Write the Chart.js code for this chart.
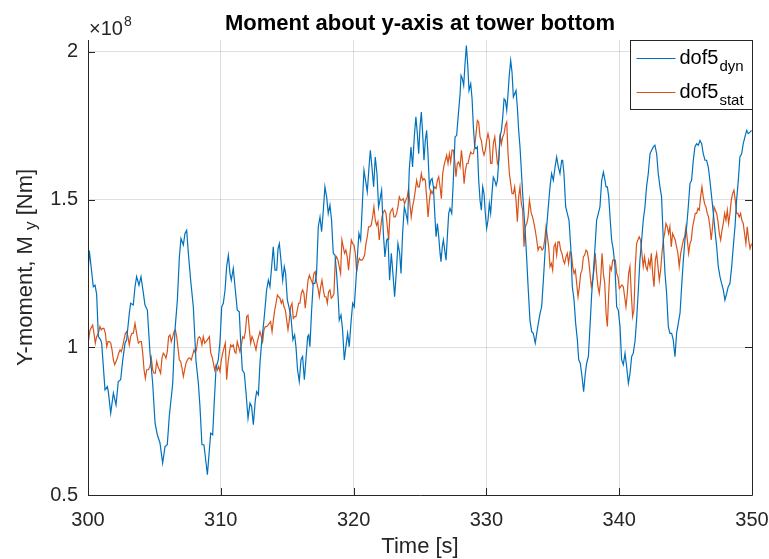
<!DOCTYPE html>
<html>
<head>
<meta charset="utf-8">
<script src="https://cdn.jsdelivr.net/npm/chart.js@4.4.1/dist/chart.umd.min.js"></script>
<style>
  html, body { margin: 0; padding: 0; background: #fff; }
  canvas { display: block; }
</style>
</head>
<body>
<canvas id="myChart" width="769" height="559"></canvas>
<script>
// values in units of 1e8 Nm
var dynTime = [300.0,300.1,300.4,300.53,300.65,300.78,300.95,301.03,301.28,301.46,301.53,301.71,301.91,302.11,302.28,302.46,302.61,302.79,302.91,303.11,303.21,303.41,303.54,303.66,303.84,303.99,304.17,304.29,304.47,304.67,304.87,305.05,305.22,305.42,305.62,305.8,305.97,306.12,306.38,306.55,306.73,306.88,307.0,307.18,307.3,307.43,307.56,307.73,307.93,308.13,308.31,308.43,308.58,308.73,308.86,308.99,309.14,309.24,309.39,309.49,309.64,309.81,309.94,310.07,310.19,310.32,310.44,310.57,310.69,310.79,310.94,311.07,311.24,311.39,311.49,311.62,311.77,311.9,312.05,312.2,312.32,312.45,312.6,312.7,312.83,312.95,313.08,313.25,313.45,313.58,313.7,313.83,313.95,314.08,314.21,314.31,314.41,314.53,314.66,314.78,314.88,315.01,315.13,315.28,315.43,315.56,315.66,315.78,315.91,316.04,316.16,316.29,316.41,316.54,316.62,316.71,316.84,316.96,317.09,317.21,317.34,317.47,317.59,317.72,317.84,317.97,318.09,318.22,318.34,318.47,318.6,318.72,318.85,318.92,319.05,319.17,319.3,319.42,319.55,319.67,319.8,319.93,320.05,320.18,320.3,320.4,320.53,320.65,320.78,320.9,321.03,321.16,321.26,321.38,321.51,321.63,321.76,321.88,321.98,322.11,322.24,322.36,322.49,322.59,322.71,322.84,322.96,323.09,323.21,323.34,323.47,323.57,323.69,323.82,323.94,324.07,324.19,324.32,324.44,324.57,324.69,324.8,324.9,325.0,325.1,325.2,325.3,325.4,325.5,325.6,325.71,325.81,325.91,326.01,326.11,326.21,326.31,326.41,326.51,326.58,326.68,326.76,326.86,326.96,327.06,327.16,327.26,327.39,327.51,327.64,327.76,327.89,328.02,328.09,328.19,328.29,328.39,328.49,328.59,328.69,328.82,328.92,329.02,329.12,329.22,329.32,329.42,329.52,329.62,329.72,329.82,329.92,330.02,330.12,330.22,330.32,330.42,330.52,330.63,330.73,330.83,330.93,331.03,331.13,331.23,331.33,331.43,331.53,331.63,331.73,331.83,331.93,332.03,332.13,332.23,332.33,332.43,332.53,332.63,332.73,332.83,332.93,333.04,333.14,333.28,333.41,333.53,333.68,333.79,333.91,334.04,334.16,334.29,334.41,334.54,334.66,334.79,334.91,335.04,335.17,335.29,335.42,335.54,335.67,335.74,335.84,335.97,336.09,336.22,336.35,336.47,336.6,336.72,336.85,336.95,337.07,337.2,337.32,337.45,337.55,337.68,337.8,337.93,338.05,338.18,338.3,338.43,338.55,338.68,338.81,338.93,339.01,339.11,339.21,339.31,339.43,339.56,339.68,339.81,339.93,340.06,340.18,340.31,340.44,340.56,340.69,340.81,340.94,341.06,341.19,341.31,341.44,341.56,341.69,341.81,341.94,342.06,342.19,342.32,342.44,342.57,342.69,342.82,342.94,343.07,343.19,343.32,343.45,343.57,343.7,343.82,343.95,344.07,344.2,344.32,344.45,344.58,344.7,344.83,344.95,345.08,345.2,345.33,345.45,345.58,345.7,345.83,345.96,346.08,346.21,346.33,346.46,346.58,346.71,346.83,346.96,347.09,347.21,347.34,347.46,347.59,347.71,347.84,347.96,348.09,348.21,348.34,348.47,348.59,348.72,348.84,348.97,349.09,349.22,349.34,349.47,349.6,349.72,349.85,349.97];
var dynValue = [1.25,1.327,1.205,1.21,1.18,1.036,1.025,1.014,0.856,0.867,0.85,0.777,0.845,0.805,0.884,0.89,0.955,1.014,1.025,1.115,1.149,1.143,1.205,1.239,1.21,1.239,1.183,1.143,1.126,0.98,0.878,0.743,0.704,0.676,0.608,0.664,0.67,0.766,0.878,1.059,1.16,1.306,1.368,1.346,1.385,1.396,1.317,1.227,1.137,0.955,0.878,0.8,0.67,0.67,0.62,0.569,0.653,0.709,0.704,0.8,0.929,0.958,1.02,1.137,1.149,1.194,1.273,1.312,1.25,1.227,1.267,1.205,1.126,1.12,1.025,0.923,0.912,0.845,0.76,0.811,0.8,0.738,0.822,0.85,0.839,0.946,1.02,1.092,1.194,1.227,1.205,1.273,1.34,1.261,1.261,1.334,1.351,1.295,1.227,1.273,1.25,1.16,1.137,1.104,1.025,1.042,1.002,0.923,0.884,0.958,0.969,0.89,0.958,1.036,1.042,1.002,1.126,1.216,1.216,1.25,1.408,1.441,1.391,1.464,1.543,1.509,1.453,1.481,1.43,1.318,1.312,1.25,1.16,1.092,1.109,1.059,0.957,1.002,1.047,1.002,1.081,1.149,1.137,1.227,1.318,1.385,1.363,1.475,1.599,1.565,1.526,1.61,1.667,1.61,1.543,1.644,1.588,1.475,1.498,1.532,1.385,1.306,1.363,1.368,1.227,1.318,1.25,1.171,1.25,1.351,1.318,1.25,1.385,1.475,1.453,1.425,1.599,1.678,1.61,1.712,1.78,1.723,1.655,1.745,1.796,1.723,1.633,1.7,1.734,1.655,1.543,1.565,1.571,1.543,1.453,1.374,1.419,1.374,1.318,1.29,1.34,1.363,1.329,1.295,1.374,1.453,1.47,1.453,1.565,1.712,1.717,1.79,1.858,1.92,1.909,1.886,1.959,2.021,1.959,1.869,1.892,1.841,1.745,1.678,1.672,1.678,1.565,1.498,1.464,1.543,1.52,1.453,1.402,1.43,1.486,1.453,1.52,1.576,1.565,1.548,1.565,1.633,1.712,1.734,1.779,1.841,1.835,1.802,1.858,1.925,1.971,1.931,1.847,1.858,1.869,1.813,1.734,1.678,1.599,1.52,1.453,1.385,1.295,1.205,1.092,1.053,1.047,1.014,1.047,1.081,1.115,1.137,1.227,1.318,1.408,1.475,1.543,1.588,1.565,1.61,1.644,1.61,1.588,1.633,1.633,1.588,1.475,1.453,1.43,1.34,1.205,1.16,1.081,1.025,0.958,0.946,0.901,0.85,0.912,0.946,0.969,1.069,1.182,1.25,1.34,1.43,1.453,1.475,1.565,1.593,1.565,1.543,1.543,1.509,1.441,1.363,1.329,1.273,1.137,1.126,1.07,0.958,0.941,0.98,0.935,0.878,0.91,0.969,0.98,1.02,1.092,1.194,1.295,1.363,1.43,1.475,1.543,1.588,1.655,1.667,1.678,1.684,1.655,1.588,1.543,1.509,1.363,1.25,1.182,1.07,1.047,1.047,1.025,0.968,1.047,1.081,1.115,1.205,1.295,1.363,1.408,1.475,1.554,1.565,1.633,1.678,1.689,1.684,1.7,1.689,1.655,1.633,1.633,1.61,1.565,1.509,1.453,1.396,1.34,1.273,1.239,1.216,1.194,1.16,1.182,1.205,1.216,1.273,1.34,1.408,1.498,1.565,1.644,1.655,1.689,1.712,1.734,1.723,1.728,1.734];

var statTime = [300.0,300.15,300.35,300.45,300.55,300.65,300.78,300.9,301.0,301.1,301.2,301.31,301.41,301.51,301.61,301.71,301.81,301.91,302.01,302.11,302.21,302.31,302.41,302.51,302.61,302.71,302.81,302.91,303.01,303.11,303.21,303.31,303.41,303.54,303.66,303.79,303.92,304.02,304.12,304.22,304.32,304.42,304.54,304.67,304.77,304.87,304.97,305.07,305.17,305.27,305.37,305.47,305.57,305.67,305.77,305.87,305.97,306.07,306.17,306.27,306.38,306.48,306.58,306.68,306.78,306.88,306.98,307.08,307.18,307.28,307.38,307.48,307.58,307.68,307.78,307.88,307.98,308.08,308.18,308.28,308.38,308.48,308.58,308.68,308.79,308.89,308.99,309.14,309.24,309.34,309.44,309.54,309.64,309.74,309.84,309.94,310.04,310.14,310.24,310.34,310.44,310.54,310.64,310.74,310.84,310.94,311.04,311.14,311.24,311.34,311.44,311.55,311.65,311.75,311.85,311.95,312.05,312.15,312.25,312.35,312.45,312.55,312.65,312.75,312.85,312.95,313.05,313.15,313.25,313.35,313.45,313.55,313.65,313.75,313.86,313.96,314.06,314.16,314.26,314.36,314.46,314.56,314.66,314.76,314.86,314.96,315.06,315.16,315.26,315.36,315.46,315.56,315.66,315.76,315.86,315.96,316.06,316.16,316.26,316.36,316.47,316.57,316.67,316.81,316.91,317.01,317.11,317.21,317.32,317.42,317.52,317.62,317.72,317.82,317.92,318.02,318.12,318.22,318.32,318.42,318.52,318.62,318.72,318.82,318.92,319.02,319.12,319.22,319.32,319.42,319.52,319.62,319.73,319.83,319.93,320.03,320.13,320.23,320.33,320.43,320.53,320.63,320.73,320.83,320.93,321.03,321.13,321.23,321.33,321.43,321.53,321.63,321.73,321.83,321.93,322.03,322.14,322.24,322.34,322.44,322.54,322.64,322.74,322.84,322.94,323.04,323.14,323.24,323.34,323.44,323.54,323.64,323.74,323.84,323.94,324.04,324.14,324.24,324.34,324.44,324.54,324.65,324.75,324.85,324.95,325.1,325.2,325.3,325.4,325.5,325.61,325.71,325.81,325.91,326.01,326.11,326.21,326.31,326.41,326.51,326.61,326.71,326.81,326.91,327.01,327.11,327.21,327.31,327.41,327.51,327.61,327.71,327.81,327.91,328.02,328.12,328.22,328.32,328.42,328.52,328.62,328.72,328.82,328.92,329.02,329.12,329.22,329.32,329.42,329.52,329.62,329.72,329.82,329.92,330.02,330.12,330.22,330.32,330.42,330.52,330.63,330.73,330.83,330.93,331.03,331.13,331.23,331.33,331.43,331.53,331.63,331.73,331.83,331.93,332.03,332.13,332.23,332.33,332.43,332.53,332.63,332.73,332.83,332.93,333.04,333.14,333.24,333.38,333.48,333.58,333.68,333.79,333.89,333.99,334.09,334.19,334.29,334.39,334.49,334.59,334.69,334.79,334.89,334.99,335.09,335.19,335.29,335.39,335.49,335.59,335.69,335.79,335.89,335.99,336.09,336.19,336.3,336.4,336.5,336.6,336.7,336.8,336.9,337.0,337.1,337.2,337.3,337.4,337.5,337.6,337.7,337.8,337.9,338.0,338.1,338.2,338.3,338.4,338.5,338.6,338.71,338.81,338.91,339.01,339.11,339.21,339.31,339.41,339.51,339.61,339.71,339.81,339.91,340.01,340.11,340.21,340.31,340.41,340.51,340.61,340.71,340.81,340.91,341.01,341.11,341.21,341.31,341.41,341.51,341.61,341.71,341.81,341.91,342.01,342.11,342.22,342.32,342.42,342.52,342.62,342.72,342.82,342.92,343.02,343.12,343.22,343.32,343.42,343.52,343.62,343.72,343.82,343.92,344.02,344.12,344.22,344.32,344.42,344.52,344.63,344.73,344.83,344.93,345.03,345.13,345.23,345.33,345.43,345.53,345.63,345.73,345.83,345.93,346.03,346.13,346.23,346.33,346.43,346.53,346.63,346.73,346.83,346.93,347.03,347.14,347.24,347.34,347.44,347.54,347.64,347.74,347.84,347.94,348.04,348.14,348.24,348.34,348.44,348.54,348.64,348.74,348.84,348.94,349.04,349.14,349.24,349.34,349.44,349.54,349.64,349.75,349.85,349.97];
var statValue = [1.01,1.059,1.075,1.047,1.014,1.036,1.047,1.07,1.059,1.064,1.064,1.047,1.002,1.019,1.019,1.014,0.991,0.957,0.941,0.952,0.963,0.98,0.991,0.985,1.002,1.025,1.047,1.053,1.036,1.008,1.036,1.047,1.047,1.081,1.047,1.014,1.019,1.019,0.98,0.924,0.895,0.924,0.924,0.935,0.963,0.924,0.912,0.912,0.952,0.935,0.924,0.912,0.963,0.98,0.974,0.963,0.985,1.036,1.042,1.019,1.036,1.053,1.059,1.036,0.996,0.957,0.952,0.929,0.901,0.924,0.946,0.957,0.963,0.963,0.957,0.974,0.991,0.98,0.996,1.03,1.036,1.03,1.008,1.036,1.014,1.019,1.025,1.036,0.98,0.968,0.946,0.923,0.94,0.923,0.935,0.918,0.957,0.98,0.997,1.014,0.89,0.946,0.98,1.008,1.002,1.008,0.985,0.98,1.019,1.002,0.985,1.008,1.036,1.03,1.053,1.104,1.109,1.059,1.014,1.036,1.025,1.008,0.991,1.019,1.036,1.053,1.036,1.019,1.059,1.07,1.07,1.075,1.081,1.087,1.053,1.092,1.126,1.149,1.177,1.171,1.166,1.149,1.16,1.137,1.126,1.092,1.059,1.092,1.137,1.149,1.098,1.104,1.104,1.126,1.149,1.149,1.182,1.194,1.182,1.132,1.182,1.227,1.244,1.227,1.216,1.25,1.256,1.222,1.199,1.171,1.205,1.227,1.194,1.171,1.171,1.149,1.188,1.194,1.166,1.171,1.182,1.295,1.306,1.295,1.273,1.25,1.363,1.34,1.318,1.329,1.306,1.261,1.318,1.363,1.351,1.346,1.318,1.256,1.284,1.301,1.295,1.295,1.301,1.312,1.351,1.374,1.408,1.408,1.413,1.441,1.475,1.43,1.413,1.425,1.363,1.402,1.441,1.458,1.464,1.453,1.408,1.363,1.453,1.464,1.47,1.441,1.441,1.453,1.475,1.509,1.498,1.498,1.503,1.486,1.498,1.509,1.537,1.486,1.441,1.475,1.498,1.532,1.565,1.543,1.543,1.588,1.565,1.571,1.565,1.509,1.441,1.498,1.532,1.52,1.532,1.543,1.537,1.565,1.577,1.543,1.503,1.588,1.616,1.633,1.65,1.622,1.655,1.627,1.667,1.667,1.633,1.577,1.622,1.627,1.61,1.667,1.622,1.554,1.599,1.622,1.622,1.644,1.661,1.655,1.655,1.678,1.723,1.768,1.762,1.712,1.7,1.667,1.65,1.667,1.7,1.723,1.7,1.622,1.622,1.689,1.712,1.667,1.622,1.633,1.723,1.689,1.712,1.723,1.751,1.762,1.655,1.588,1.554,1.52,1.52,1.543,1.498,1.425,1.509,1.543,1.486,1.464,1.34,1.408,1.419,1.441,1.498,1.453,1.441,1.419,1.396,1.363,1.329,1.34,1.34,1.329,1.334,1.363,1.408,1.374,1.34,1.273,1.284,1.261,1.34,1.351,1.312,1.357,1.357,1.329,1.318,1.295,1.284,1.306,1.318,1.284,1.323,1.318,1.273,1.25,1.261,1.216,1.171,1.205,1.25,1.261,1.306,1.312,1.329,1.323,1.295,1.25,1.205,1.227,1.261,1.318,1.25,1.205,1.182,1.227,1.318,1.25,1.216,1.115,1.07,1.182,1.273,1.261,1.295,1.295,1.295,1.25,1.239,1.199,1.205,1.211,1.205,1.171,1.137,1.182,1.25,1.273,1.182,1.104,1.126,1.273,1.351,1.363,1.374,1.363,1.318,1.273,1.306,1.273,1.261,1.295,1.273,1.318,1.25,1.205,1.295,1.318,1.273,1.227,1.261,1.318,1.363,1.385,1.419,1.408,1.385,1.408,1.34,1.385,1.374,1.363,1.34,1.318,1.273,1.318,1.34,1.363,1.374,1.408,1.363,1.318,1.351,1.363,1.408,1.43,1.453,1.453,1.47,1.464,1.509,1.543,1.509,1.486,1.475,1.453,1.441,1.408,1.363,1.408,1.475,1.464,1.453,1.425,1.385,1.363,1.396,1.419,1.453,1.43,1.464,1.419,1.453,1.498,1.52,1.532,1.498,1.453,1.453,1.441,1.453,1.43,1.419,1.385,1.351,1.408,1.363,1.334,1.351];

var xTicks = [300, 310, 320, 330, 340, 350];
var yTicks = [0.5, 1, 1.5, 2];
var seriesNames = ['dof5', 'dof5'];
var seriesSubs = ['dyn', 'stat'];
var seriesColors = ['#0072BD', '#D95319'];

var axisColor = '#262626';
var fontFam = '"Liberation Sans", Arial, Helvetica, sans-serif';

function toPoints(t, v) {
    var pts = [];
    for (var i = 0; i < t.length; i++) pts.push({ x: t[i], y: v[i] });
    return pts;
}

// axes box, inward ticks, labels and legend drawn like the matlab figure
var figureBits = {
    id: 'figureBits',
    beforeDraw: function (chart) {
        var ctx = chart.ctx;
        ctx.save();
        ctx.fillStyle = '#fff';
        ctx.fillRect(0, 0, chart.width, chart.height);
        ctx.restore();
    },
    afterDatasetsDraw: function (chart) {
        var ctx = chart.ctx;
        var a = chart.chartArea;
        var xs = chart.scales.x, ys = chart.scales.y;
        ctx.save();
        ctx.strokeStyle = axisColor;
        ctx.lineWidth = 1;
        ctx.beginPath();
        ctx.moveTo(a.left + 0.5, a.top);
        ctx.lineTo(a.left + 0.5, a.bottom + 0.5);
        ctx.lineTo(a.right + 0.5, a.bottom + 0.5);
        ctx.lineTo(a.right + 0.5, a.top);
        xTicks.forEach(function (v) {
            var px = Math.round(xs.getPixelForValue(v)) + 0.5;
            ctx.moveTo(px, a.bottom);
            ctx.lineTo(px, a.bottom - 7);
        });
        yTicks.forEach(function (v) {
            var py = Math.round(ys.getPixelForValue(v)) + 0.5;
            ctx.moveTo(a.left, py);
            ctx.lineTo(a.left + 7, py);
            ctx.moveTo(a.right, py);
            ctx.lineTo(a.right - 7, py);
        });
        ctx.stroke();

        // legend
        var lw = 122, lh = 69;
        var lx = a.right - lw + 0.5, ly = a.top + 0.5;
        ctx.fillStyle = '#fff';
        ctx.fillRect(lx, ly, lw, lh);
        ctx.strokeStyle = axisColor;
        ctx.strokeRect(lx, ly, lw, lh);
        ctx.textBaseline = 'alphabetic';
        ctx.textAlign = 'left';
        for (var i = 0; i < seriesNames.length; i++) {
            var rowY = ly + 18 + i * 34;
            ctx.strokeStyle = seriesColors[i];
            ctx.lineWidth = 1.2;
            ctx.beginPath();
            ctx.moveTo(lx + 6, rowY);
            ctx.lineTo(lx + 45, rowY);
            ctx.stroke();
            ctx.fillStyle = '#000';
            ctx.font = '20px ' + fontFam;
            ctx.fillText(seriesNames[i], lx + 49, rowY + 5);
            var w = ctx.measureText(seriesNames[i]).width;
            ctx.font = '15px ' + fontFam;
            ctx.fillText(seriesSubs[i], lx + 50 + w, rowY + 12);
        }
        ctx.restore();
    },
    afterDraw: function (chart) {
        var ctx = chart.ctx;
        var a = chart.chartArea;
        var cx = (a.left + a.right) / 2;
        ctx.save();
        ctx.textBaseline = 'alphabetic';

        // title
        ctx.fillStyle = '#000';
        ctx.textAlign = 'center';
        ctx.font = 'bold 22px ' + fontFam;
        ctx.fillText('Moment about y-axis at tower bottom', cx, 30);

        // exponent
        ctx.fillStyle = axisColor;
        ctx.textAlign = 'left';
        ctx.font = '20px ' + fontFam;
        ctx.fillText('\u00d710', a.left + 1, 35);
        var ew = ctx.measureText('\u00d710').width;
        ctx.font = '14px ' + fontFam;
        ctx.fillText('8', a.left + 2 + ew, 26);

        // x label
        ctx.textAlign = 'center';
        ctx.font = '22px ' + fontFam;
        ctx.fillText('Time [s]', cx, 553);

        // y label with subscript
        ctx.translate(32, (a.top + a.bottom) / 2);
        ctx.rotate(-Math.PI / 2);
        ctx.textAlign = 'left';
        var p1 = 'Y-moment, M ';
        var p2 = 'y';
        var p3 = ' [Nm]';
        ctx.font = '22px ' + fontFam;
        var w1 = ctx.measureText(p1).width;
        var w3 = ctx.measureText(p3).width;
        ctx.font = '17px ' + fontFam;
        var w2 = ctx.measureText(p2).width;
        var x0 = -(w1 + w2 + w3) / 2;
        ctx.font = '22px ' + fontFam;
        ctx.fillText(p1, x0, 0);
        ctx.fillText(p3, x0 + w1 + w2, 0);
        ctx.font = '17px ' + fontFam;
        ctx.fillText(p2, x0 + w1, 4);
        ctx.restore();
    }
};

var gridColor = 'rgba(38,38,38,0.15)';

new Chart('myChart', {
    type: 'scatter',
    data: {
        datasets: [{
            label: seriesNames[0] + ' ' + seriesSubs[0],
            data: toPoints(dynTime, dynValue),
            borderColor: seriesColors[0],
            borderWidth: 1.2,
            showLine: true,
            pointRadius: 0,
            tension: 0
        }, {
            label: seriesNames[1] + ' ' + seriesSubs[1],
            data: toPoints(statTime, statValue),
            borderColor: seriesColors[1],
            borderWidth: 1.2,
            showLine: true,
            pointRadius: 0,
            tension: 0
        }]
    },
    options: {
        responsive: false,
        animation: false,
        layout: { padding: { top: 40, right: 17, left: 0, bottom: 0 } },
        plugins: {
            legend: { display: false },
            tooltip: { enabled: false },
            title: { display: false }
        },
        scales: {
            x: {
                type: 'linear',
                min: 300,
                max: 350,
                afterFit: function (s) {
                    s.height = 64;
                    s.paddingLeft = 0;
                    s.paddingRight = 0;
                },
                afterBuildTicks: function (s) { s.ticks = xTicks.map(function (v) { return { value: v }; }); },
                grid: { color: gridColor, drawTicks: false },
                border: { display: false },
                ticks: {
                    color: axisColor,
                    padding: 13,
                    maxRotation: 0,
                    font: { family: fontFam, size: 20 },
                    callback: function (v) { return String(v); }
                }
            },
            y: {
                type: 'linear',
                min: 0.5,
                max: 2.04,
                afterFit: function (s) {
                    s.width = 88;
                    s.paddingTop = 0;
                    s.paddingBottom = 0;
                },
                afterBuildTicks: function (s) { s.ticks = yTicks.map(function (v) { return { value: v }; }); },
                grid: { color: gridColor, drawTicks: false },
                border: { display: false },
                ticks: {
                    color: axisColor,
                    padding: 10,
                    font: { family: fontFam, size: 20 },
                    callback: function (v) { return String(v); }
                }
            }
        }
    },
    plugins: [figureBits]
});
</script>
</body>
</html>
